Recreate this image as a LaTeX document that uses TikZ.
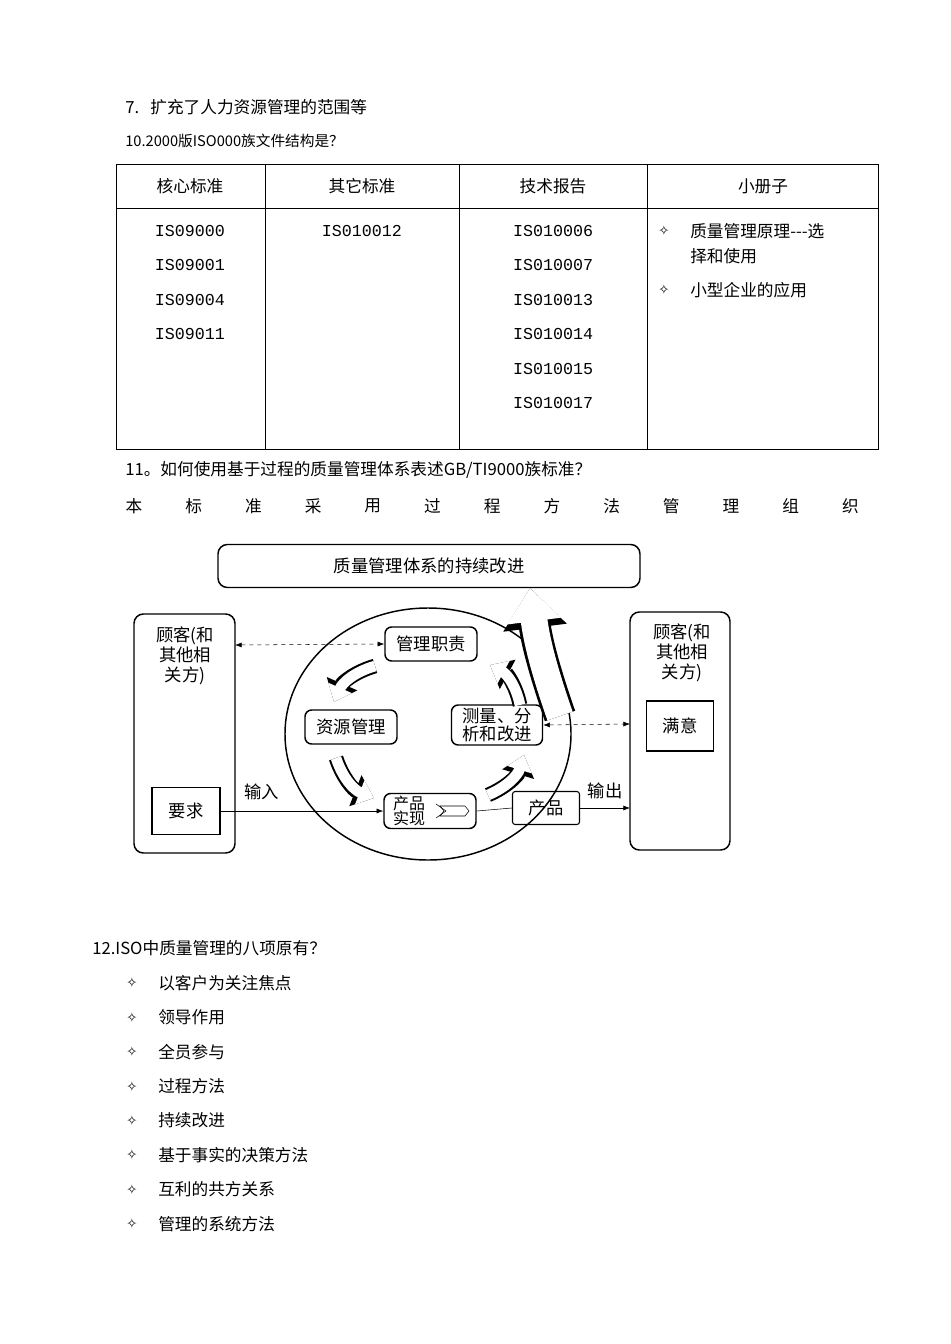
\documentclass[tikz,border=0pt]{standalone}
\usepackage{fontspec}
\usetikzlibrary{arrows.meta}
\newfontfamily\cjk{Noto Sans CJK SC}
\newfontfamily\djv{DejaVu Sans}
\newfontfamily\mono{Liberation Mono}
\setmainfont{Liberation Serif}
\begin{document}
\begin{tikzpicture}[x=0.75pt,y=-0.75pt,
  txt/.style={anchor=west,inner sep=0,font=\cjk\fontsize{12.5}{15}\selectfont},
  ctxt/.style={inner sep=0,font=\cjk\fontsize{12.5}{15}\selectfont},
  iso/.style={inner sep=0,font=\mono\fontsize{12.5}{15}\selectfont},
  dg/.style={draw,line width=1.1pt,rounded corners=5pt,font=\cjk\fontsize{13}{14}\selectfont,inner sep=2pt},
  hollow/.style={preaction={draw=black,line width=11pt,-{Triangle[length=15pt,width=24pt]}},draw=white,line width=8pt,-{Triangle[length=11.5pt,width=18.5pt]}},
  dsh/.style={dashed,{Latex[length=5pt]}-{Latex[length=5pt]}},
  arr/.style={-{Latex[length=5pt]}}]
\useasboundingbox (0,0) rectangle (950,1344);
\node[txt] (t7) at (125,107) {7.\ \ \ 扩充了人力资源管理的范围等};
\node[txt,font=\cjk\fontsize{11}{13}\selectfont] (t10) at (125,141) {10.2000版ISO000族文件结构是？};
% table
\draw (116,164) rectangle (878,449);
\draw (116,208) -- (878,208);
\foreach \x in {265,459,647} \draw (\x,164) -- (\x,449);
\node[ctxt] (h1) at (190,186) {核心标准};
\node[ctxt] (h2) at (362,186) {其它标准};
\node[ctxt] (h3) at (553,186) {技术报告};
\node[ctxt] (h4) at (763,186) {小册子};
\foreach \t [count=\i] in {IS09000,IS09001,IS09004,IS09011} \node[iso] at (190,231+34.4*\i-34.4) {\t};
\node[iso] (c2) at (362,231) {IS010012};
\foreach \t [count=\i] in {IS010006,IS010007,IS010013,IS010014,IS010015,IS010017} \node[iso] at (553,231+34.4*\i-34.4) {\t};
\node[inner sep=0,font=\djv] (b1) at (664,231) {✧};
\node[txt] (b1t) at (690,231) {质量管理原理---选};
\node[txt] (b1u) at (690,256) {择和使用};
\node[inner sep=0,font=\djv] (b2) at (664,290) {✧};
\node[txt] (b2t) at (690,290) {小型企业的应用};
\node[txt] (t11) at (125,470) {11。如何使用基于过程的质量管理体系表述GB/TI9000族标准？};
\foreach \c [count=\i] in {本,标,准,采,用,过,程,方,法,管,理,组,织} \node[ctxt] at (134+59.7*\i-59.7,506) {\c};
% diagram
\node[dg,minimum width=422pt*0.75,minimum height=43*0.75pt,rounded corners=7pt] (top) at (429,566) {质量管理体系的持续改进};
\draw[line width=1.1pt] (428,734) ellipse (143 and 126);
\draw[line width=1.1pt,rounded corners=7pt] (134,614) rectangle (235,853);
\node[ctxt,align=center,font=\cjk\fontsize{13}{15}\selectfont] (lc) at (185,656) {顾客(和\\其他相\\关方)};
\node[draw,line width=1.1pt,minimum width=68*0.75pt,minimum height=47*0.75pt,font=\cjk\fontsize{13}{14}\selectfont] (req) at (186,811) {要求};
\draw[line width=1.1pt,rounded corners=7pt] (630,612) rectangle (730,850);
\node[ctxt,align=center,font=\cjk\fontsize{13}{15}\selectfont] (rc) at (682,653) {顾客(和\\其他相\\关方)};
\node[draw,line width=1.1pt,minimum width=67*0.75pt,minimum height=50*0.75pt,font=\cjk\fontsize{13}{14}\selectfont] (sat) at (680,726) {满意};
\node[dg,minimum width=92*0.75pt,minimum height=34*0.75pt] (mgt) at (431,644) {管理职责};
\node[dg,minimum width=92*0.75pt,minimum height=34*0.75pt] (res) at (351,727) {资源管理};
\node[dg,minimum width=91*0.75pt,minimum height=40*0.75pt,align=center,font=\cjk\fontsize{13}{13}\selectfont] (mea) at (497,725) {测量、分\\析和改进};
\node[dg,minimum width=92*0.75pt,minimum height=35*0.75pt] (prd) at (430,811) {};
\node[inner sep=0,align=left,font=\cjk\fontsize{12}{11.5}\selectfont] (prdt) at (409,811) {产品\\实现};
\draw[fill=white] (440,806) -- (465,806) -- (469,811) -- (465,816) -- (440,816) -- (444,811) -- cycle;
\draw (436,804) -- (446,811) -- (436,818);
\node[draw,line width=0.8pt,rounded corners=2pt,minimum width=67*0.75pt,minimum height=33*0.75pt,font=\cjk\fontsize{13}{14}\selectfont] (pro) at (546,808) {产品};
\coordinate (lbm) at (235,645);
\coordinate (rbm) at (630,724);
\coordinate (rbo) at (630,808);
\draw[dsh] (lbm) -- (mgt.west);
\draw[dsh] (mea.east) -- (rbm);
\draw[arr] (req.east) -- (prd.west) node[pos=0.25,above=5pt,font=\cjk\fontsize{13}{14}\selectfont] (inl) {输入};
\draw (prd.east) -- (pro.west);
\draw[arr] (pro.east) -- (rbo) node[midway,above=3pt,font=\cjk\fontsize{13}{14}\selectfont] (outl) {输出};
\draw[hollow] (375,666) to[bend right=25] (334,702);
\draw[hollow] (336,758) to[bend right=25] (374,798);
\draw[hollow] (488,795) to[bend right=25] (524,755);
\draw[hollow] (520,705) to[bend right=25] (490,665);
\draw[preaction={draw=black,line width=24pt,-{Triangle[length=30pt,width=46pt]}},draw=white,line width=20pt,-{Triangle[length=25pt,width=39pt]}] (560,716) to[bend left=6] (530,588);
\node[txt] (t12) at (92,948) {12.ISO中质量管理的八项原有？};
\foreach \t [count=\i] in {以客户为关注焦点,领导作用,全员参与,过程方法,持续改进,基于事实的决策方法,互利的共方关系,管理的系统方法}{
  \node[inner sep=0,font=\djv] at (132,983+34.4*\i-34.4) {✧};
  \node[txt] at (158,983+34.4*\i-34.4) {\t};}
\end{tikzpicture}
\end{document}
